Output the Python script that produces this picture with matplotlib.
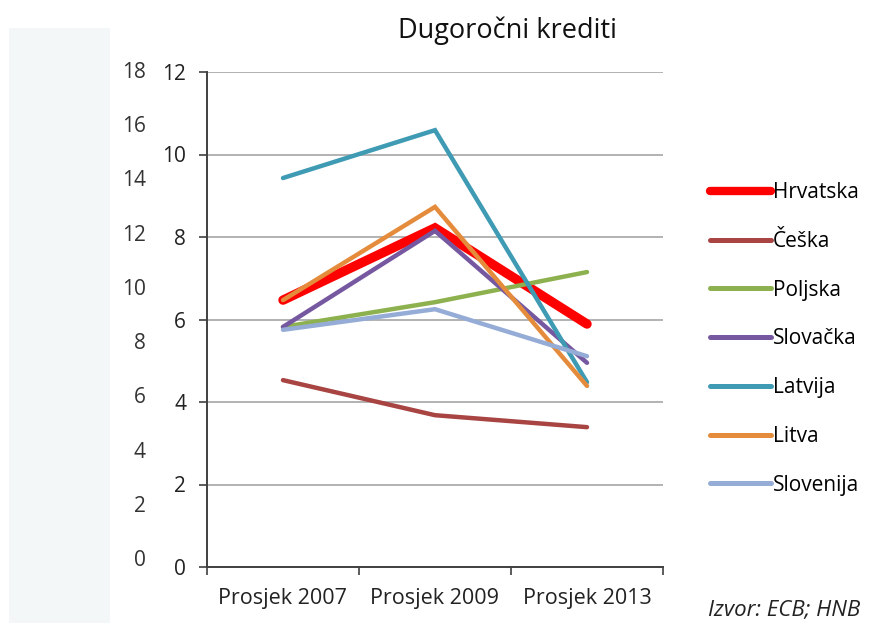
import matplotlib
matplotlib.use("Agg")
import matplotlib.pyplot as plt
from matplotlib.lines import Line2D
from matplotlib.patches import Rectangle

plt.rcParams['font.family'] = ['Open Sans', 'DejaVu Sans']

categories = ["Prosjek 2007", "Prosjek 2009", "Prosjek 2013"]
series_names = ["Hrvatska", "Češka", "Poljska", "Slovačka", "Latvija", "Litva", "Slovenija"]
hrvatska = [6.47, 8.22, 5.89]
ceska = [4.53, 3.68, 3.39]
poljska = [5.82, 6.42, 7.15]
slovacka = [5.82, 8.15, 4.95]
latvija = [9.43, 10.59, 4.48]
litva = [6.47, 8.73, 4.39]
slovenija = [5.75, 6.25, 5.11]
ghost_ticks = [0, 2, 4, 6, 8, 10, 12, 14, 16, 18]
main_ticks = [0, 2, 4, 6, 8, 10, 12]
title = "Dugoročni krediti"
source = "Izvor: ECB; HNB"

values = [hrvatska, ceska, poljska, slovacka, latvija, litva, slovenija]
colors = ["#FF0000", "#A84442", "#8DB14E", "#7658A0", "#3E9BB3", "#E58B3C", "#95ACD6"]
widths = [6.8, 3.2, 3.2, 3.2, 3.2, 3.2, 3.2]

W, H = 870, 623
fig = plt.figure(figsize=(W / 100, H / 100), dpi=100)
fig.patch.set_facecolor("white")

# pale background panel on the left
fig.patches.append(Rectangle((9 / W, 0), (110 - 9) / W, 1 - 28 / H,
                             transform=fig.transFigure, facecolor="#F4F7F8",
                             edgecolor="none", zorder=0))

# ghost axis (0-18)
gax = fig.add_axes([207 / W, 1 - 558 / H, 0.01, (558 - 70) / H])
gax.set_ylim(0, 18)
gax.set_yticks(ghost_ticks)
gax.set_yticklabels([str(t) for t in ghost_ticks], fontsize=15, color="#333333")
gax.tick_params(axis="y", length=0, pad=61 * 0.72)
gax.set_xticks([])
for s in gax.spines.values():
    s.set_visible(False)
gax.patch.set_alpha(0)

ax = fig.add_axes([207 / W, 1 - 567 / H, (663 - 207) / W, (567 - 72) / H])
ax.patch.set_alpha(0)
x = list(range(len(categories)))
for name, vals, c, lw in zip(series_names, values, colors, widths):
    ax.plot(x, vals, color=c, lw=lw, solid_capstyle="round", solid_joinstyle="miter",
            label=name, zorder=3 if name != "Hrvatska" else 2.5)

ax.set_xlim(-0.5, len(categories) - 0.5)
ax.set_ylim(0, 12)
ax.set_yticks(main_ticks)
ax.set_yticklabels([str(t) for t in main_ticks], fontsize=15, color="#222222")
ax.tick_params(axis="y", length=6, width=1.2, color="#404040", pad=9)
ax.set_xticks(x)
ax.set_xticklabels(categories, fontsize=15.5, color="#222222")
ax.set_xticks([i - 0.5 for i in range(len(categories) + 1)], minor=True)
ax.tick_params(axis="x", which="major", length=0, pad=15)
ax.tick_params(axis="x", which="minor", length=6, width=1.2, color="#404040")
ax.grid(axis="y", color="#A6A6A6", lw=1.2, zorder=0)
ax.set_axisbelow(True)
for s in ["top", "right"]:
    ax.spines[s].set_visible(False)
for s in ["left", "bottom"]:
    ax.spines[s].set_color("#404040")
    ax.spines[s].set_linewidth(1.4)

fig.text(508 / W, 1 - 31 / H, title, ha="center", va="center", fontsize=19.5, color="#111111")

handles = [Line2D([], [], color=c, lw=(6.0 if i == 0 else 3.6), solid_capstyle="round")
           for i, c in enumerate(colors)]
leg = fig.legend(handles, series_names, loc="upper left",
                 bbox_to_anchor=(702 / W, 1 - 174 / H), frameon=False,
                 fontsize=15, handlelength=2.9, handletextpad=0.12,
                 labelspacing=1.33, borderaxespad=0)

fig.text(860 / W, 1 - 610 / H, source, ha="right", va="center",
         fontsize=16, style="italic", color="#222222")

fig.savefig("out.png", dpi=100, facecolor="white")
